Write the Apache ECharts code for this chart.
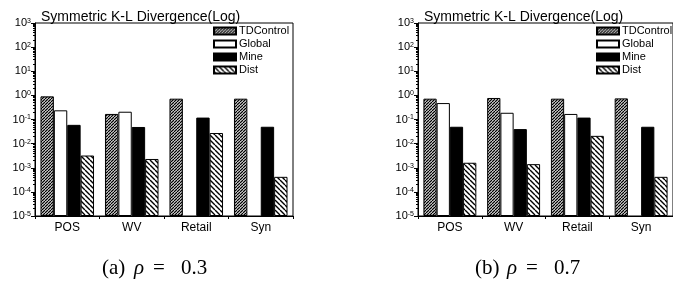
<!DOCTYPE html>
<html>
<head>
<meta charset="utf-8">
<script src="https://cdn.jsdelivr.net/npm/echarts@6/dist/echarts.min.js"></script>
<style>
html, body { margin: 0; padding: 0; background: #fff; }
#main { width: 673px; height: 286px; }
</style>
</head>
<body>
<div id="main"></div>
<script>
var categories = ['POS', 'WV', 'Retail', 'Syn'];
var seriesNames = ['TDControl', 'Global', 'Mine', 'Dist'];
var yTicks = [1e-5, 1e-4, 1e-3, 1e-2, 1e-1, 1e0, 1e1, 1e2, 1e3];

// rho = 0.3
var tdA = [0.91, 0.17, 0.73, 0.73];
var globalA = [0.24, 0.21, null, null];
var mineA = [0.06, 0.049, 0.12, 0.05];
var distA = [0.0032, 0.0023, 0.0275, 0.00041];

// rho = 0.7
var tdB = [0.73, 0.78, 0.73, 0.75];
var globalB = [0.48, 0.19, 0.17, null];
var mineB = [0.05, 0.04, 0.12, 0.05];
var distB = [0.0016, 0.0014, 0.021, 0.00041];

function hatch(size, lw, back) {
    var c = document.createElement('canvas');
    c.width = size; c.height = size;
    var g = c.getContext('2d');
    g.fillStyle = '#fff';
    g.fillRect(0, 0, size, size);
    g.strokeStyle = '#000';
    g.lineWidth = lw;
    g.beginPath();
    for (var k = -1; k <= 1; k++) {
        if (back) {
            g.moveTo(k * size, 0); g.lineTo(k * size + size, size);
        } else {
            g.moveTo(k * size, size); g.lineTo(k * size + size, 0);
        }
    }
    g.stroke();
    return { image: c, repeat: 'repeat' };
}

var fills = [hatch(3, 1.3, false), '#fff', '#000', hatch(5, 1.4, true)];
var myChart = echarts.init(document.getElementById('main'));

var grids = [
    { left: 35, top: 23, width: 258, height: 193 },
    { left: 418, top: 23, width: 258, height: 193 }
];

function supLabel(v) {
    var e = Math.round(Math.log(v) / Math.LN10);
    return '10{e|' + e + '}';
}

var xAxes = [], yAxes = [], series = [], titles = [], legends = [];
var allData = [[tdA, globalA, mineA, distA], [tdB, globalB, mineB, distB]];
// log axis bars grow from 1, so each column sits on an invisible base at the axis min
var baseData = categories.map(function () { return yTicks[0]; });

grids.forEach(function (gr, i) {
    gr.show = true;
    gr.borderColor = '#000';
    gr.borderWidth = 1;
    xAxes.push({
        type: 'category', gridIndex: i, data: categories,
        axisLine: { lineStyle: { color: '#000', width: 1 } },
        axisTick: { show: true, length: 3, lineStyle: { color: '#000' } },
        axisLabel: { color: '#000', fontSize: 12, margin: 6, fontFamily: 'Liberation Sans, Arial' }
    });
    yAxes.push({
        type: 'log', gridIndex: i, logBase: 10,
        min: yTicks[0], max: yTicks[yTicks.length - 1], splitNumber: 8,
        axisLine: { show: true, lineStyle: { color: '#000', width: 1 } },
        axisTick: { show: true, length: 4, lineStyle: { color: '#000' } },
        minorTick: { show: true, splitNumber: 9, length: 2, lineStyle: { color: '#000' } },
        splitLine: { show: false },
        axisLabel: {
            color: '#000', fontSize: 11, margin: 4, fontFamily: 'Liberation Sans, Arial',
            formatter: supLabel,
            rich: { e: { fontSize: 7, verticalAlign: 'top', lineHeight: 8, padding: [0, 0, 4, 0] } }
        }
    });
    titles.push({
        text: 'Symmetric K-L Divergence(Log)',
        left: gr.left + 1, top: 5,
        textStyle: { fontSize: 14, fontWeight: 'normal', color: '#000', fontFamily: 'Liberation Sans, Arial' }
    });
    legends.push({
        orient: 'vertical', left: gr.left + 178, top: 25, padding: 0,
        itemWidth: 22, itemHeight: 7, itemGap: 1,
        icon: 'rect', data: seriesNames,
        textStyle: { fontSize: 11, lineHeight: 12, color: '#000', fontFamily: 'Liberation Sans, Arial', padding: [0, 0, 0, -2] }
    });
    seriesNames.forEach(function (name, j) {
        series.push({
            name: 'base' + i + j, type: 'bar', xAxisIndex: i, yAxisIndex: i,
            stack: 's' + i + j, data: baseData, silent: true,
            barGap: '0%', barCategoryGap: '17%',
            itemStyle: { color: 'rgba(0,0,0,0)', borderWidth: 0 },
            emphasis: { disabled: true }, tooltip: { show: false }
        });
        series.push({
            name: name, type: 'bar', xAxisIndex: i, yAxisIndex: i,
            stack: 's' + i + j, data: allData[i][j],
            barGap: '0%', barCategoryGap: '17%',
            itemStyle: { color: fills[j], borderColor: '#000', borderWidth: 1 },
            emphasis: { disabled: true }
        });
    });
});

var option = {
    animation: false,
    title: titles,
    legend: legends,
    grid: grids,
    xAxis: xAxes,
    yAxis: yAxes,
    series: series,
    graphic: [
        { type: 'text', left: 102, top: 258, style: { text: '(a)', fontSize: 21, fontFamily: 'Liberation Serif', fill: '#000' } },
        { type: 'text', left: 134, top: 258, style: { text: 'ρ', fontSize: 21, fontStyle: 'italic', fontFamily: 'Liberation Serif', fill: '#000' } },
        { type: 'text', left: 153, top: 258, style: { text: '=', fontSize: 21, fontFamily: 'Liberation Serif', fill: '#000' } },
        { type: 'text', left: 181, top: 258, style: { text: '0.3', fontSize: 21, fontFamily: 'Liberation Serif', fill: '#000' } },
        { type: 'text', left: 475, top: 258, style: { text: '(b)', fontSize: 21, fontFamily: 'Liberation Serif', fill: '#000' } },
        { type: 'text', left: 507, top: 258, style: { text: 'ρ', fontSize: 21, fontStyle: 'italic', fontFamily: 'Liberation Serif', fill: '#000' } },
        { type: 'text', left: 526, top: 258, style: { text: '=', fontSize: 21, fontFamily: 'Liberation Serif', fill: '#000' } },
        { type: 'text', left: 554, top: 258, style: { text: '0.7', fontSize: 21, fontFamily: 'Liberation Serif', fill: '#000' } }
    ]
};
myChart.setOption(option);
</script>
</body>
</html>
